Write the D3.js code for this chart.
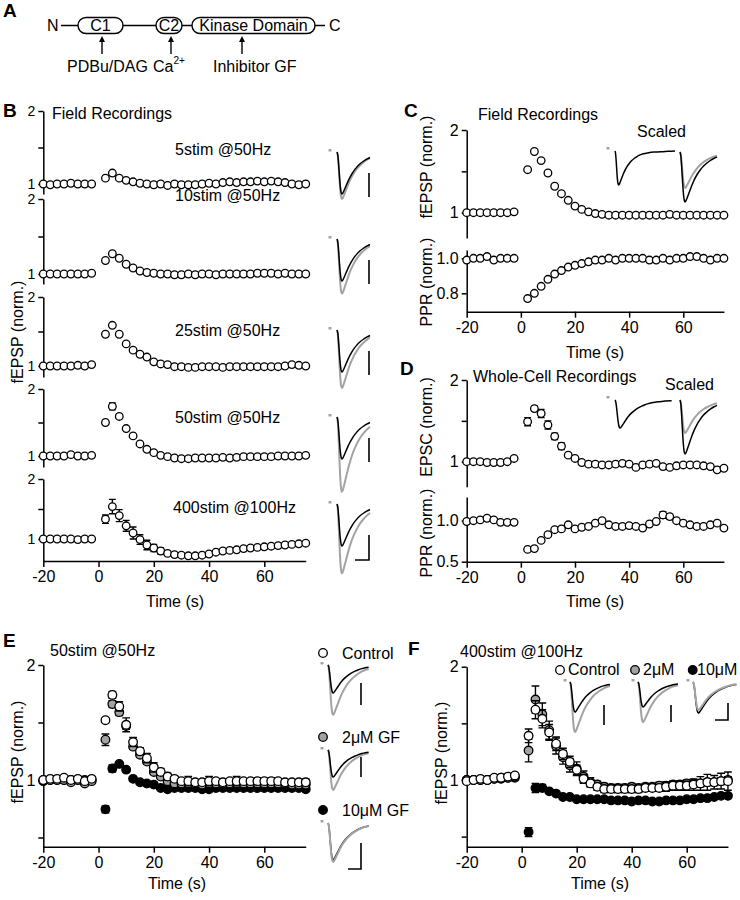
<!DOCTYPE html>
<html><head><meta charset="utf-8">
<script src="https://cdn.jsdelivr.net/npm/d3@7"></script>
<style>
body{margin:0;background:#fff}
svg{display:block;font-family:"Liberation Sans",Arial,Helvetica,sans-serif}
.axis path,.axis line{stroke:#000;stroke-width:1.5}
.axis text{font-size:16px;fill:#000;font-family:"Liberation Sans",Arial,sans-serif}
.axis.small text{font-size:14px}
text{fill:#000}
</style></head><body>
<svg id="fig" width="740" height="900"></svg>
<script>
// ---------------- DATA ----------------
const times = [-20,-17.5,-15,-12.5,-10,-7.5,-5,-2.5,2.5,5,7.5,10,12.5,15,17.5,20,22.5,25,27.5,30,32.5,35,37.5,40,42.5,45,47.5,50,52.5,55,57.5,60,62.5,65,67.5,70,72.5,75];
const xTicks = [-20,0,20,40,60];

// Panel B (field recordings, normalized fEPSP)
const b5stim = [1.0,0.99,1.0,1.0,1.01,1.0,1.0,1.0, 1.08,1.15,1.08,1.05,1.03,1.01,1.0,0.99,1.0,0.98,1.0,0.99,0.99,0.99,1.0,1.01,1.0,1.02,1.03,1.02,1.03,1.03,1.04,1.03,1.04,1.03,1.02,1.0,0.99,1.0];
const b10stim = [1.0,1.0,1.0,1.0,1.0,1.0,1.0,1.01, 1.18,1.27,1.21,1.13,1.08,1.04,1.02,1.01,1.0,1.0,0.99,0.99,1.0,0.99,1.0,1.0,0.99,1.0,1.0,1.0,1.0,1.0,1.01,1.01,1.01,1.0,1.01,1.0,1.0,1.0];
const b25stim = [1.0,1.0,1.0,1.0,1.0,1.01,1.0,1.02, 1.46,1.59,1.46,1.32,1.23,1.17,1.13,1.06,1.03,1.02,0.99,0.99,0.98,0.98,0.99,0.99,0.99,0.98,0.99,0.99,0.99,0.99,0.99,0.99,0.99,0.99,1.0,1.02,1.01,1.0];
const b50stim = [1.0,1.0,1.0,1.0,1.02,1.0,1.0,1.01, 1.5,1.74,1.59,1.41,1.3,1.18,1.1,1.05,1.01,0.99,0.97,0.96,0.96,0.97,0.97,0.97,0.97,0.98,0.97,0.98,0.99,0.99,0.99,0.99,0.99,1.0,1.0,1.0,1.0,1.01];
const b50stimErr = [0,0,0,0,0,0,0,0, 0.02,0.05,0.03,0.02,0.02,0.02,0,0,0,0,0,0,0,0,0,0,0,0,0,0,0,0,0,0,0,0,0,0,0,0];
const b400stim = [1.0,1.0,1.0,1.0,1.0,0.99,1.0,1.0, 1.33,1.54,1.39,1.22,1.1,0.99,0.9,0.85,0.8,0.76,0.74,0.73,0.72,0.72,0.73,0.75,0.78,0.8,0.81,0.82,0.84,0.85,0.86,0.87,0.88,0.89,0.9,0.91,0.92,0.93];
const b400stimErr = [0,0,0,0,0,0,0,0, 0.07,0.12,0.1,0.09,0.1,0.08,0.08,0.06,0.05,0.04,0.03,0.02,0,0,0,0,0,0,0,0,0,0,0,0,0,0,0,0,0,0];
const bLabels = ["5stim @50Hz","10stim @50Hz","25stim @50Hz","50stim @50Hz","400stim @100Hz"];
const bTraceBlack = [1,1,1,1,1];
const bTraceGray = [1.12,1.3,1.38,1.78,1.65];

// Panel C
const cFepsp = [1.0,1.0,1.0,1.0,1.0,1.0,1.0,1.01, 1.52,1.74,1.63,1.48,1.32,1.23,1.15,1.08,1.04,1.01,0.99,0.98,0.97,0.97,0.97,0.97,0.97,0.97,0.97,0.97,0.97,0.98,0.97,0.97,0.97,0.97,0.97,0.97,0.97,0.97];
const cPpr = [0.99,1.0,1.0,1.01,0.99,1.0,1.0,1.0, 0.77,0.8,0.84,0.88,0.91,0.93,0.95,0.96,0.97,0.98,0.99,0.99,1.0,0.99,1.0,1.0,1.0,1.0,0.99,0.99,1.0,0.99,1.0,1.0,1.01,1.01,1.0,0.99,1.0,1.0];
const cTraceBlack = [1,1];
const cTraceGray = [0,0.72];

// Panel D
const dEpsc = [1.0,1.0,1.0,0.99,0.99,0.99,1.0,1.04, 1.49,1.65,1.59,1.45,1.31,1.19,1.08,1.04,0.99,0.97,0.97,0.96,0.96,0.97,0.98,0.97,0.93,0.96,0.97,0.98,0.94,0.93,0.95,0.96,0.96,0.96,0.95,0.94,0.9,0.92];
const dEpscErr = [0,0,0,0,0,0,0,0, 0.05,0.03,0.05,0.05,0.04,0.04,0.02,0,0,0,0,0,0,0,0,0,0,0,0,0,0,0,0,0,0,0,0,0,0,0];
const dPpr = [0.99,1.0,1.01,1.03,1.01,0.98,0.98,0.98, 0.65,0.66,0.76,0.83,0.89,0.9,0.95,0.9,0.92,0.93,0.97,1.0,0.95,0.93,0.93,0.94,0.93,0.91,0.96,0.99,1.07,1.05,1.0,0.97,0.95,0.93,0.93,0.95,0.97,0.91];
const dPprErr = [0,0,0,0,0,0,0,0, 0,0,0,0,0,0,0,0,0,0,0,0,0,0,0,0,0,0,0,0,0.04,0.03,0,0,0,0,0,0,0,0];
const dTraceBlack = [1,1];
const dTraceGray = [0,0.61];

// Panel E (50stim @50Hz)
const eControl = [1.0,1.01,1.01,1.02,1.0,1.01,0.99,1.01, 1.52,1.74,1.64,1.48,1.33,1.25,1.19,1.11,1.07,1.03,1.01,0.99,0.99,0.98,0.98,0.99,0.99,0.98,0.99,0.99,0.99,0.99,0.99,0.99,0.99,0.99,0.98,0.98,0.98,0.98];
const eControlErr = [0,0,0,0,0,0,0,0, 0.02,0.03,0.04,0.06,0.04,0.03,0.04,0.04,0.03,0.03,0.02,0.02,0.04,0.02,0.02,0.04,0.02,0.02,0.02,0.04,0.02,0.02,0.03,0.02,0.03,0.02,0.02,0.02,0.02,0.03];
const eGF2 = [1.0,1.0,1.0,1.0,0.98,1.0,0.97,0.99, 1.35,1.66,1.59,1.47,1.29,1.22,1.16,1.07,1.03,0.99,0.97,0.97,0.97,0.97,0.96,0.97,0.97,0.97,0.97,0.97,0.97,0.97,0.97,0.97,0.97,0.97,0.97,0.96,0.96,0.96];
const eGF2Err = [0,0,0,0,0,0,0,0, 0.05,0.03,0.03,0.03,0.02,0.02,0.02,0.02,0.02,0.02,0.02,0.02,0.02,0.02,0.02,0.02,0.02,0.02,0.02,0.02,0.02,0.02,0.02,0.02,0.02,0.02,0.02,0.02,0.02,0.02];
const eGF10 = [0.99,1.0,1.0,1.0,1.0,1.0,1.0,1.0, 0.745,1.1,1.14,1.09,1.01,0.98,0.97,0.96,0.93,0.92,0.93,0.93,0.93,0.93,0.92,0.92,0.93,0.93,0.93,0.93,0.93,0.93,0.93,0.93,0.93,0.93,0.93,0.93,0.93,0.92];
const eGF10Err = [0,0,0,0,0,0,0,0, 0.03,0.03,0.02,0.01,0.01,0.01,0.01,0.01,0.01,0.01,0.01,0.01,0.01,0.01,0.01,0.01,0.01,0.01,0.01,0.01,0.01,0.01,0.01,0.01,0.01,0.01,0.01,0.01,0.01,0.01];
const eLegend = ["Control","2\u03bcM GF","10\u03bcM GF"];
const eTraceBlack = [1,1,1];
const eTraceGray = [1.78,1.48,1.05];

// Panel F (400stim @100Hz)
const fControl = [0.99,1.0,1.01,1.0,1.02,1.02,1.03,1.04, 1.39,1.62,1.54,1.42,1.32,1.23,1.16,1.09,1.01,0.97,0.94,0.92,0.92,0.92,0.92,0.92,0.92,0.93,0.93,0.93,0.94,0.95,0.95,0.95,0.96,0.97,0.98,0.98,0.99,0.99];
const fControlErr = [0,0,0,0,0,0,0,0, 0.06,0.08,0.08,0.07,0.06,0.05,0.05,0.04,0.04,0.03,0.03,0.03,0.03,0.03,0.03,0.03,0.03,0.03,0.03,0.03,0.04,0.04,0.04,0.04,0.05,0.06,0.07,0.06,0.07,0.08];
const fGF2 = [1.0,1.0,1.0,1.0,1.01,1.02,1.02,1.03, 1.26,1.71,1.58,1.44,1.3,1.2,1.13,1.1,1.03,0.98,0.96,0.94,0.93,0.93,0.93,0.94,0.93,0.94,0.94,0.95,0.95,0.96,0.96,0.97,0.97,0.97,0.98,0.98,0.99,1.0];
const fGF2Err = [0,0,0,0,0,0,0,0, 0.1,0.12,0.1,0.08,0.07,0.06,0.06,0.06,0.05,0.04,0.03,0.03,0.03,0.03,0.03,0.03,0.03,0.03,0.03,0.03,0.03,0.03,0.03,0.03,0.03,0.03,0.03,0.03,0.03,0.03];
const fGF10 = [1.0,1.0,1.0,1.0,1.01,1.01,1.02,1.02, 0.54,0.93,0.93,0.9,0.88,0.85,0.85,0.83,0.83,0.83,0.83,0.83,0.82,0.82,0.82,0.81,0.82,0.82,0.81,0.81,0.82,0.82,0.82,0.83,0.83,0.84,0.84,0.85,0.86,0.86];
const fGF10Err = [0,0,0,0,0,0,0,0, 0.04,0.04,0.03,0.01,0.01,0.01,0.01,0.01,0.01,0.01,0.01,0.01,0.01,0.01,0.01,0.01,0.01,0.01,0.01,0.01,0.01,0.01,0.01,0.01,0.01,0.01,0.01,0.01,0.01,0.01];
const fLegend = ["Control","2\u03bcM","10\u03bcM"];
const fTraceBlack = [1,1,1];
const fTraceGray = [1.67,1.6,0.9];

// Representative synaptic response waveform (ms, normalized amplitude)
const traceT = [0,0.5,1,1.5,2,2.5,3,3.5,4,5,6,7,8,10,12,14,16,18,20,22,24,27,30,34,38,44,50];
const traceV = [0,-0.08,-0.3,-0.58,-0.82,-0.96,-1.0,-0.98,-0.94,-0.85,-0.76,-0.67,-0.59,-0.46,-0.36,-0.28,-0.22,-0.17,-0.13,-0.1,-0.08,-0.06,-0.04,-0.03,-0.02,-0.01,0];

// ---------------- DRAWING ----------------
const svg = d3.select('#fig');
svg.append('rect').attr('width',740).attr('height',900).attr('fill','#fff');
const GRAY = '#a3a3a3';

function txt(x, y, s, opts = {}) {
  return svg.append('text').attr('x', x).attr('y', y)
    .attr('font-size', opts.size || 16)
    .attr('font-weight', opts.bold ? 'bold' : null)
    .attr('text-anchor', opts.anchor || 'start')
    .text(s);
}
function rotLabel(x, y, s) {
  svg.append('text').attr('transform', `translate(${x},${y}) rotate(-90)`)
    .attr('text-anchor', 'middle').attr('dy', '0.35em').attr('font-size', 16).text(s);
}
function makeY(v1, p1, v2, p2, top, bot) {
  const s = d3.scaleLinear().domain([v1, v2]).range([p1, p2]);
  return d3.scaleLinear().domain([s.invert(bot), s.invert(top)]).range([bot, top]);
}
function makeX(pm20, p60) {
  const s = d3.scaleLinear().domain([-20, 60]).range([pm20, p60]);
  return d3.scaleLinear().domain([-20, 75]).range([pm20, s(75)]);
}
function yAxis(x, scale, ticks, fmt, small) {
  const g = svg.append('g').attr('class', small ? 'axis small' : 'axis').attr('transform', `translate(${x},0)`)
    .call(d3.axisLeft(scale).tickValues(ticks).tickFormat(fmt).tickSize(5).tickSizeOuter(0).tickPadding(3));
  g.attr('font-size', null).attr('font-family', null);
  return g;
}
function xAxis(y, scale) {
  const g = svg.append('g').attr('class', 'axis').attr('transform', `translate(0,${y})`)
    .call(d3.axisBottom(scale).tickValues(xTicks).tickFormat(d3.format('d')).tickSize(6).tickSizeOuter(0).tickPadding(4));
  g.attr('font-size', null).attr('font-family', null);
  g.selectAll('text').text(d => d < 0 ? '-' + Math.abs(d) : d);
  return g;
}
function series(xs, ys, vals, errs, fill, r) {
  const g = svg.append('g');
  const cap = r * 0.9;
  if (errs) {
    times.forEach((t, i) => {
      const e = errs[i]; if (!e) return;
      const x = xs(t), yT = ys(vals[i] + e), yB = ys(vals[i] - e);
      g.append('path').attr('d', `M${x},${yT}V${yB}M${x - cap},${yT}H${x + cap}M${x - cap},${yB}H${x + cap}`)
        .attr('stroke', '#000').attr('stroke-width', 1.4).attr('fill', 'none');
    });
  }
  g.selectAll('circle').data(vals).join('circle')
    .attr('cx', (d, i) => xs(times[i])).attr('cy', d => ys(d)).attr('r', r)
    .attr('fill', fill).attr('stroke', '#000').attr('stroke-width', 1.3);
}
function trace(x0, w, tmax, base, depth, amp, color, sw) {
  const k = w / tmax;
  const pts = traceT.map((t, i) => [t, traceV[i]]).filter(p => p[0] <= tmax);
  const line = d3.line().x(p => x0 + p[0] * k).y(p => base - p[1] * depth * amp).curve(d3.curveMonotoneX);
  svg.append('path').attr('d', line(pts)).attr('fill', 'none').attr('stroke', color)
    .attr('stroke-width', sw).attr('stroke-linejoin', 'round');
}
function artifact(x, base) {
  svg.append('rect').attr('x', x - 1.5).attr('y', base - 3).attr('width', 3).attr('height', 2.5).attr('fill', GRAY);
}
function bar(d) {
  svg.append('path').attr('d', d).attr('fill', 'none').attr('stroke', '#000').attr('stroke-width', 1.6);
}

// ---------- Panel A ----------
txt(3, 17, 'A', { size: 19, bold: true });
txt(47, 31, 'N');
svg.append('path').attr('d', 'M61,25.5H78M123,25.5H156M182,25.5H192M315,25.5H325')
  .attr('stroke', '#000').attr('stroke-width', 1.4);
[[78, 45, 'C1'], [156, 26, 'C2'], [192, 123, 'Kinase Domain']].forEach(([x, w, s]) => {
  svg.append('rect').attr('x', x).attr('y', 17.5).attr('width', w).attr('height', 16).attr('rx', 8)
    .attr('fill', '#fff').attr('stroke', '#000').attr('stroke-width', 1.4);
  txt(x + w / 2, 31, s, { anchor: 'middle' });
});
txt(329, 31, 'C');
[102, 171, 242].forEach(x => {
  svg.append('path').attr('d', `M${x},54V41`).attr('stroke', '#000').attr('stroke-width', 1.4);
  svg.append('path').attr('d', `M${x - 3},42L${x},36L${x + 3},42Z`).attr('fill', '#000');
});
txt(67, 72, 'PDBu/DAG');
const ca = txt(153, 72, 'Ca');
ca.append('tspan').attr('font-size', 10).attr('dy', -8).text('2+');
txt(213, 72, 'Inhibitor GF');

// ---------- Panel B ----------
txt(3, 117, 'B', { size: 19, bold: true });
txt(52, 119, 'Field Recordings');
const xB = makeX(43.3, 264.3);
const bSeries = [b5stim, b10stim, b25stim, b50stim, b400stim];
const bErrs = [null, null, null, b50stimErr, b400stimErr];
const bPos = [[184, 111, 194], [274, 199, 284], [366, 297, 377], [456, 389, 467], [539, 479, 561]];
const bTitleY = [155, 201, 336, 423, 513];
const bBase = [152, 239, 330, 417, 504];
bSeries.forEach((vals, k) => {
  const [p1, p2, bot] = bPos[k];
  const ys = makeY(1, p1, 2, p2, p2, bot);
  yAxis(43.3, ys, [1, 1.5, 2], d => d === 1.5 ? '' : d3.format('d')(d), true);
  series(xB, ys, vals, bErrs[k], '#fff', 3.8);
  txt(k === 4 ? 173 : 175, bTitleY[k], bLabels[k]);
  const base = bBase[k];
  artifact(330, base);
  trace(337, 33, 20, base, 42, bTraceGray[k], GRAY, 2);
  trace(337, 33, 20, base, 42, bTraceBlack[k], '#000', 1.5);
  if (k < 4) bar(`M369,${base + 21}V${base + 45}`);
  else bar(`M369,535V560H355`);
});
xAxis(561, xB);
txt(175, 607, 'Time (s)', { anchor: 'middle' });
rotLabel(17, 332, 'fEPSP (norm.)');

// ---------- Panel C ----------
txt(404, 117, 'C', { size: 19, bold: true });
txt(478, 120, 'Field Recordings');
txt(637, 137, 'Scaled');
const xC = makeX(466.7, 683.3);
const ysC1 = makeY(1, 212.7, 2, 130, 130, 238);
yAxis(466.7, ysC1, [1, 1.5, 2], d => d === 1.5 ? '' : d3.format('d')(d));
series(xC, ysC1, cFepsp, null, '#fff', 3.8);
const ysC2 = makeY(1, 258.3, 0.8, 293.3, 250, 311.7);
yAxis(466.7, ysC2, [0.8, 1.0], d3.format('.1f'));
series(xC, ysC2, cPpr, null, '#fff', 3.8);
xAxis(311.7, xC);
txt(595, 358, 'Time (s)', { anchor: 'middle' });
rotLabel(426, 167, 'fEPSP (norm.)');
rotLabel(426, 282, 'PPR (norm.)');
artifact(608, 150);
trace(615, 60, 50, 151, 34, cTraceBlack[0], '#000', 1.5);
trace(680, 37, 22, 152, 50, cTraceGray[1], GRAY, 2);
trace(680, 37, 22, 152, 50, cTraceBlack[1], '#000', 1.5);

// ---------- Panel D ----------
txt(400, 375, 'D', { size: 19, bold: true });
txt(473, 382, 'Whole-Cell Recordings');
txt(665, 390, 'Scaled');
const ysD1 = makeY(1, 461.7, 2, 380, 380, 486.7);
yAxis(466.7, ysD1, [1, 1.5, 2], d => d === 1.5 ? '' : d3.format('d')(d));
series(xC, ysD1, dEpsc, dEpscErr, '#fff', 3.8);
const ysD2 = makeY(1, 520.7, 0.5, 561.7, 497, 561.7);
yAxis(466.7, ysD2, [0.5, 1.0], d3.format('.1f'));
series(xC, ysD2, dPpr, dPprErr, '#fff', 3.8);
xAxis(561.7, xC);
txt(595, 607, 'Time (s)', { anchor: 'middle' });
rotLabel(426, 427, 'EPSC (norm.)');
rotLabel(426, 533, 'PPR (norm.)');
artifact(608, 399);
trace(615, 60, 36, 400, 28, dTraceBlack[0], '#000', 1.5);
trace(680, 37, 22, 400, 54, dTraceGray[1], GRAY, 2);
trace(680, 37, 22, 400, 54, dTraceBlack[1], '#000', 1.5);

// ---------- Panel E ----------
txt(3, 647, 'E', { size: 19, bold: true });
txt(50, 656, '50stim @50Hz');
const ysE = makeY(1, 780, 2, 665, 665, 846.7);
yAxis(43.3, ysE, [0.5, 1, 1.5, 2], d => (d === 1 || d === 2) ? d3.format('d')(d) : '');
series(xB, ysE, eGF10, eGF10Err, '#000', 4.3);
series(xB, ysE, eGF2, eGF2Err, GRAY, 4.3);
series(xB, ysE, eControl, eControlErr, '#fff', 4.3);
xAxis(846.7, xB);
txt(177, 889, 'Time (s)', { anchor: 'middle' });
rotLabel(17, 752, 'fEPSP (norm.)');
const eFills = ['#fff', GRAY, '#000'];
const eLegY = [653, 737, 810];
const eBase = [665, 750, 823];
const eDepth = [28, 27, 37];
eLegend.forEach((s, k) => {
  svg.append('circle').attr('cx', 323).attr('cy', eLegY[k]).attr('r', 4.3)
    .attr('fill', eFills[k]).attr('stroke', '#000').attr('stroke-width', 1.3);
  txt(342, eLegY[k] + 6, s);
  artifact(322, eBase[k]);
  if (k < 2) {
    trace(328, 44, 26, eBase[k], eDepth[k], eTraceGray[k], GRAY, 2);
    trace(328, 44, 26, eBase[k], eDepth[k], eTraceBlack[k], '#000', 1.5);
  } else {
    trace(328, 44, 26, eBase[k], eDepth[k], eTraceBlack[k], '#000', 1.5);
    trace(328, 44, 26, eBase[k], eDepth[k], eTraceGray[k], GRAY, 2);
  }
});
bar('M361,683V705');
bar('M361,757V777');
bar('M361,843V869H348');

// ---------- Panel F ----------
txt(408, 655, 'F', { size: 19, bold: true });
txt(460, 657, '400stim @100Hz');
const xF = makeX(466.7, 686.7);
const ysF = makeY(1, 780, 2, 666.7, 666.7, 846.7);
yAxis(466.7, ysF, [0.5, 1, 1.5, 2], d => (d === 1 || d === 2) ? d3.format('d')(d) : '');
series(xF, ysF, fGF10, fGF10Err, '#000', 4.3);
series(xF, ysF, fGF2, fGF2Err, GRAY, 4.3);
series(xF, ysF, fControl, fControlErr, '#fff', 4.3);
xAxis(846.7, xF);
txt(600, 889, 'Time (s)', { anchor: 'middle' });
rotLabel(441.7, 753, 'fEPSP (norm.)');
const fFills = ['#fff', GRAY, '#000'];
const fLegX = [560, 635, 692.7];
const fTxtX = [568, 643, 697];
const fX0 = [570, 638, 693];
const fDepth = [30, 25, 31];
fLegend.forEach((s, k) => {
  svg.append('circle').attr('cx', fLegX[k]).attr('cy', 670).attr('r', 4.3)
    .attr('fill', fFills[k]).attr('stroke', '#000').attr('stroke-width', 1.3);
  txt(fTxtX[k], 675, s);
  artifact(fX0[k] - 5, 682);
  if (k < 2) {
    trace(fX0[k], 40, 24, 682, fDepth[k], fTraceGray[k], GRAY, 2);
    trace(fX0[k], 40, 24, 682, fDepth[k], fTraceBlack[k], '#000', 1.5);
  } else {
    trace(fX0[k], 47, 26, 682, fDepth[k], fTraceBlack[k], '#000', 1.5);
    trace(fX0[k], 47, 26, 682, fDepth[k], fTraceGray[k], GRAY, 2);
  }
});
bar('M604,705V725');
bar('M671,705V722');
bar('M728,703V720H715');
</script>
</body></html>
